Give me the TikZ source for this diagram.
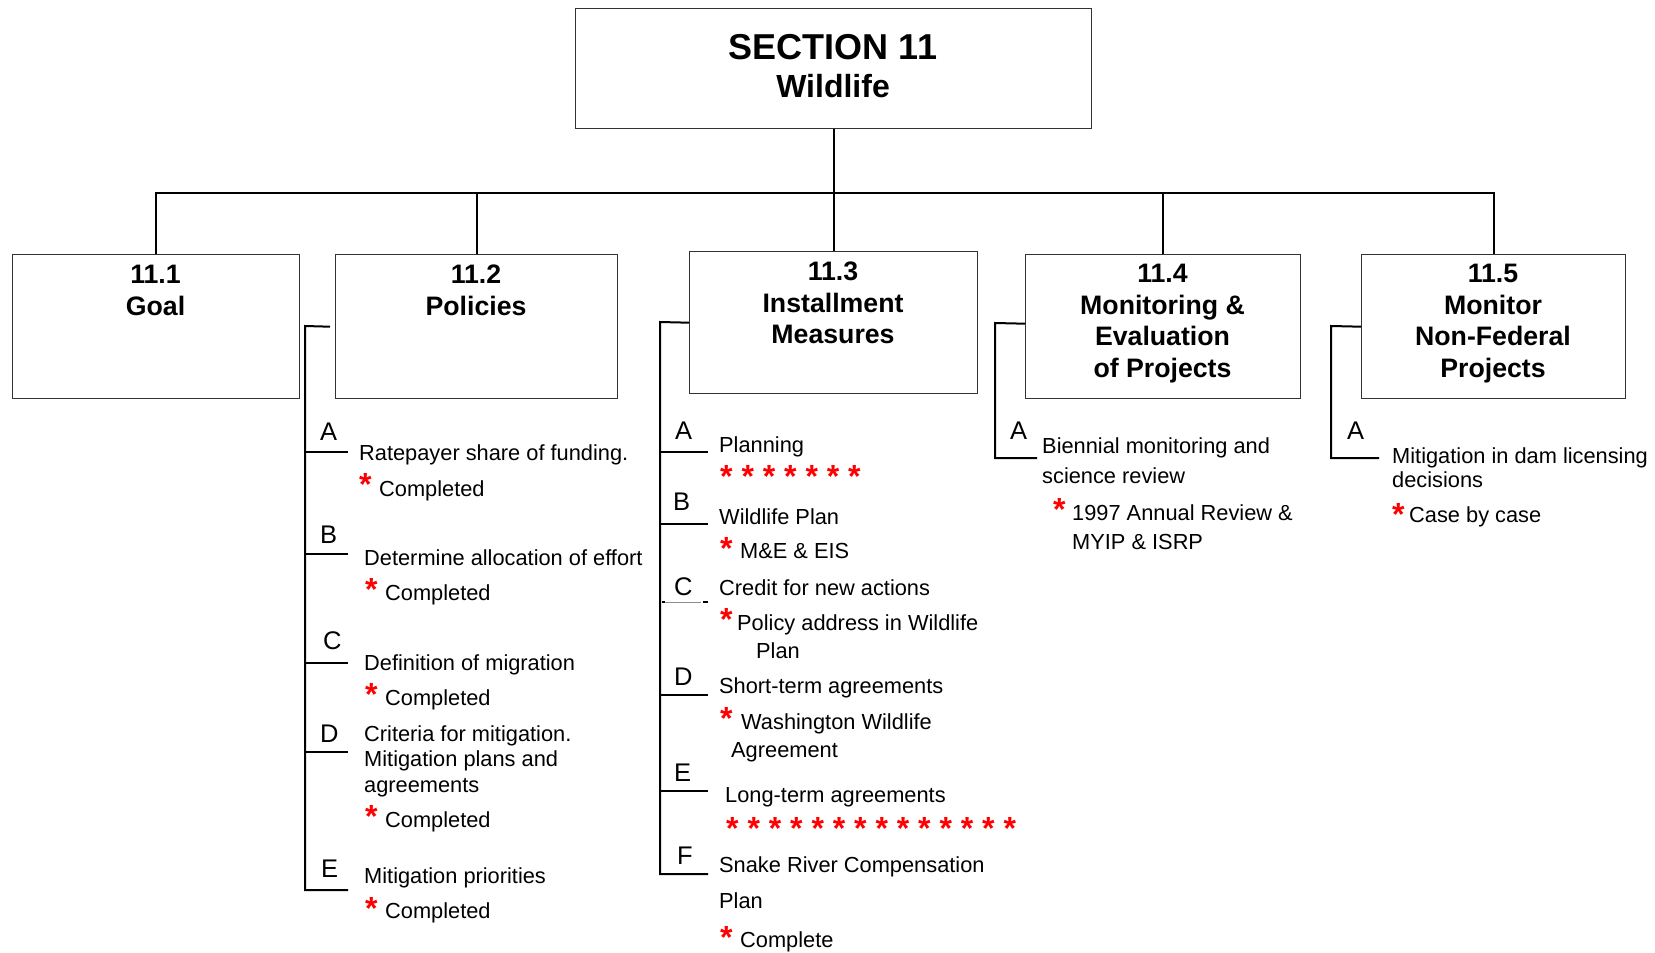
\documentclass[tikz,border=0pt]{standalone}
\usepackage{fontspec}
\setmainfont{Liberation Sans}
\begin{document}
\begin{tikzpicture}[x=1pt,y=-1pt,
  box/.style={draw=black!80, line width=1.4pt, inner sep=0pt, anchor=north west},
  conn/.style={line width=2pt, black},
  hd/.style={font=\fontsize{26.7}{31.5}\selectfont\bfseries, align=center, anchor=north, inner sep=0pt},
  txt/.style={font=\fontsize{21.8}{26}\selectfont, anchor=base west, inner sep=0pt},
  ltr/.style={font=\fontsize{25.5}{30}\selectfont, anchor=base west, inner sep=0pt},
  ast/.style={font=\fontsize{32}{32}\selectfont\bfseries, text=red, anchor=north west, inner sep=0pt},
]
\path[use as bounding box] (0,0) rectangle (1655,953);
\clip (0,0) rectangle (1655,953);

% ---------- title box ----------
\node[box, minimum width=516pt, minimum height=120pt] (top) at (575,8) {};
\node[font=\fontsize{36}{40}\selectfont\bfseries, anchor=base, inner sep=0pt] (ttl) at (833,59) {SECTION 11};
\node[font=\fontsize{32}{36}\selectfont\bfseries, anchor=base, inner sep=0pt] (sub) at (833,97) {Wildlife};

% ---------- second level boxes ----------
\node[box, minimum width=287pt, minimum height=144pt] (b1) at (12,254) {};
\node[box, minimum width=282pt, minimum height=144pt] (b2) at (335,254) {};
\node[box, minimum width=288pt, minimum height=142pt] (b3) at (689,251) {};
\node[box, minimum width=275pt, minimum height=144pt] (b4) at (1025,254) {};
\node[box, minimum width=264pt, minimum height=144pt] (b5) at (1361,254) {};

\node[hd] (h1) at (155.5,265) {11.1\\Goal};
\node[hd] (h2) at (476,265) {11.2\\Policies};
\node[hd] (h3) at (833,262) {11.3\\Installment\\Measures};
\node[hd] (h4) at (1162.5,264) {11.4\\Monitoring \&\\Evaluation\\of Projects};
\node[hd] (h5) at (1493,264) {11.5\\Monitor\\Non-Federal\\Projects};

% ---------- tree connectors ----------
\coordinate (bus) at (833,193);
\draw[conn] (top.south) -- (b3.north);
\draw[conn] (b1.north) -- (b1.north |- bus) -- (b5.north |- bus) -- (b5.north);
\draw[conn] (b2.north) -- (b2.north |- bus);
\draw[conn] (b4.north) -- (b4.north |- bus);

% ---------- 11.2 Policies ----------
\coordinate (k2) at (305,326);
\coordinate (t2a) at (348,452);
\coordinate (t2b) at (348,554);
\coordinate (t2c) at (348,663);
\coordinate (t2d) at (348,752);
\coordinate (t2e) at (348,890);
\draw[conn] ([xshift=-5pt]b2.west) -- (k2) |- (t2e);
\foreach \n in {a,b,c,d} \draw[conn] (k2) |- (t2\n);

\node[ltr] (l2a) at (320,440) {A};
\node[ltr] (l2b) at (320,543) {B};
\node[ltr] (l2c) at (323,649) {C};
\node[ltr] (l2d) at (320,742) {D};
\node[ltr] (l2e) at (321,877) {E};

\node[txt] (p2a1) at (359,460) {Ratepayer share of funding.};
\node[ast] (s2a) at (359,473) {*};
\node[txt] (p2a2) at (379,496) {Completed};
\node[txt] (p2b1) at (364,565) {Determine allocation of effort};
\node[ast] (s2b) at (365,578) {*};
\node[txt] (p2b2) at (385,600) {Completed};
\node[txt] (p2c1) at (364,670) {Definition of migration};
\node[ast] (s2c) at (365,683) {*};
\node[txt] (p2c2) at (385,705) {Completed};
\node[txt] (p2d1) at (364,741) {Criteria for mitigation.};
\node[txt] (p2d2) at (364,766) {Mitigation plans and};
\node[txt] (p2d3) at (364,792) {agreements};
\node[ast] (s2d) at (365,805) {*};
\node[txt] (p2d4) at (385,827) {Completed};
\node[txt] (p2e1) at (364,883) {Mitigation priorities};
\node[ast] (s2e) at (365,897) {*};
\node[txt] (p2e2) at (385,918) {Completed};

% ---------- 11.3 Installment Measures ----------
\coordinate (k3) at (660,322);
\coordinate (t3a) at (708,452);
\coordinate (t3b) at (708,524);
\coordinate (t3d) at (708,695);
\coordinate (t3e) at (708,791);
\coordinate (t3f) at (708,874);
\draw[conn] (b3.west) -- (k3) |- (t3f);
\foreach \n in {a,b,d,e} \draw[conn] (k3) |- (t3\n);
% item C carries a fainter rule
\coordinate (c3l) at (662,602);
\coordinate (c3m) at (701,602);
\coordinate (c3r) at (708,602);
\draw[line width=1pt, black!45] (c3l) -- (c3m);
\draw[line width=1.6pt] (c3m) ++(1.5,0) -- (c3r);
\draw[line width=1.6pt] (c3l) -- ++(3,0);

\node[ltr] (l3a) at (675,439) {A};
\node[ltr] (l3b) at (673,510) {B};
\node[ltr] (l3c) at (674,595) {C};
\node[ltr] (l3d) at (674,685) {D};
\node[ltr] (l3e) at (674,781) {E};
\node[ltr] (l3f) at (677,864) {F};

\node[txt] (p3a1) at (719,452) {Planning};
\node[ast] (s3a) at (720,465) {* * * * * * *};
\node[txt] (p3b1) at (719,524) {Wildlife Plan};
\node[ast] (s3b) at (720,537) {*};
\node[txt] (p3b2) at (740,558) {M\&E \& EIS};
\node[txt] (p3c1) at (719,595) {Credit for new actions};
\node[ast] (s3c) at (720,608) {*};
\node[txt] (p3c2) at (737,630) {Policy address in Wildlife};
\node[txt] (p3c3) at (756,658) {Plan};
\node[txt] (p3d1) at (719,693) {Short-term agreements};
\node[ast] (s3d) at (720,707) {*};
\node[txt] (p3d2) at (741,729) {Washington Wildlife};
\node[txt] (p3d3) at (731,757) {Agreement};
\node[txt] (p3e1) at (725,802) {Long-term agreements};
\node[ast] (s3e) at (726,817) {* * * * * * * * * * * * * *};
\node[txt] (p3f1) at (719,872) {Snake River Compensation};
\node[txt] (p3f2) at (719,908) {Plan};
\node[ast] (s3f) at (720,926) {*};
\node[txt] (p3f3) at (740,947) {Complete};

% ---------- 11.4 Monitoring & Evaluation ----------
\coordinate (k4) at (995,323);
\coordinate (t4a) at (1037,458);
\draw[conn] ([yshift=3pt]b4.west) -- (k4) |- (t4a);
\node[ltr] (l4a) at (1010,439) {A};
\node[txt] (p4a1) at (1042,453) {Biennial monitoring and};
\node[txt] (p4a2) at (1042,483) {science review};
\node[ast] (s4a) at (1053,498) {*};
\node[txt] (p4a3) at (1072,520) {1997 Annual Review \&};
\node[txt] (p4a4) at (1072,549) {MYIP \& ISRP};

% ---------- 11.5 Monitor Non-Federal Projects ----------
\coordinate (k5) at (1331,326);
\coordinate (t5a) at (1379,458);
\draw[conn] (b5.west) -- (k5) |- (t5a);
\node[ltr] (l5a) at (1347,439) {A};
\node[txt] (p5a1) at (1392,463) {Mitigation in dam licensing};
\node[txt] (p5a2) at (1392,487) {decisions};
\node[ast] (s5a) at (1392,503) {*};
\node[txt] (p5a3) at (1409,522) {Case by case};
\end{tikzpicture}
\end{document}
